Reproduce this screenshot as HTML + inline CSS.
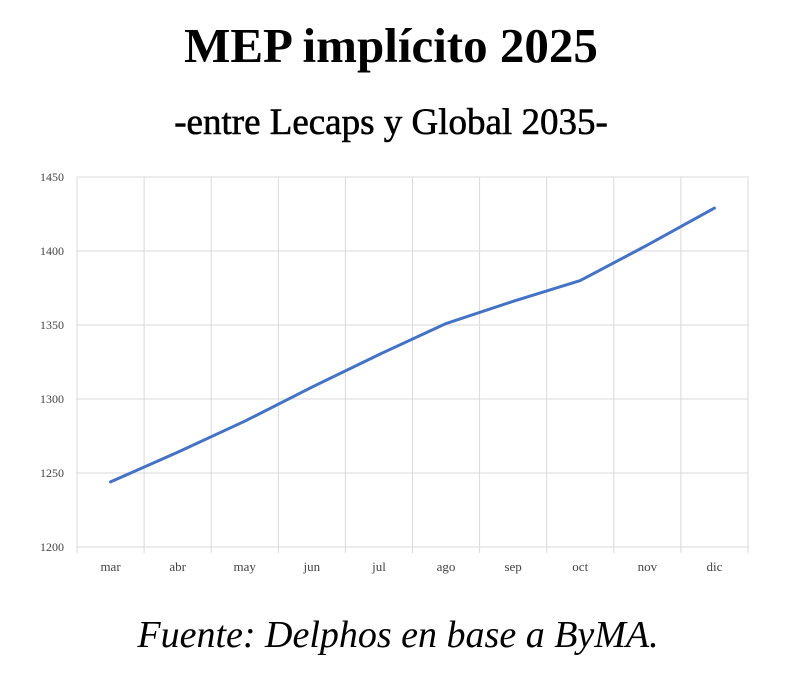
<!DOCTYPE html>
<html><head><meta charset="utf-8"><style>
body{margin:0;background:#fff;width:800px;height:672px;overflow:hidden;font-family:"Liberation Serif",serif}
</style></head><body>
<svg width="800" height="672" xmlns="http://www.w3.org/2000/svg">
<text x="391" y="62" text-anchor="middle" font-size="49" font-weight="bold" font-family="Liberation Serif,serif">MEP implícito 2025</text>
<text x="391" y="134" text-anchor="middle" font-size="37" font-family="Liberation Serif,serif" stroke="#000" stroke-width="0.6">-entre Lecaps y Global 2035-</text>
<g id="grid"></g><g id="axes"></g><g id="series"></g>
<text x="398" y="647" text-anchor="middle" font-size="38" font-style="italic" font-family="Liberation Serif,serif">Fuente: Delphos en base a ByMA.</text>
</svg>
<script>
const categories=["mar","abr","may","jun","jul","ago","sep","oct","nov","dic"];
const mepValues=[1244,1264,1285,1308,1330,1351,1366,1380,1404,1429];
const yTicks=[1200,1250,1300,1350,1400,1450];
const L=77,R=748,T=177,B=547,yMin=1200,yMax=1450;
const bw=(R-L)/categories.length;
const xPos=i=>L+bw*(i+0.5);
const yPos=v=>B-(v-yMin)/(yMax-yMin)*(B-T);
const NS="http://www.w3.org/2000/svg";
function mk(t,a,p){const e=document.createElementNS(NS,t);for(const k in a)e.setAttribute(k,a[k]);p.appendChild(e);return e;}
const grid=document.getElementById('grid'),axes=document.getElementById('axes'),series=document.getElementById('series');
yTicks.forEach(v=>{
 const l=mk('line',{x1:L,x2:R,y1:yPos(v),y2:yPos(v),stroke:'#d9d9d9','stroke-width':1},grid);
 
 
 const t=mk('text',{x:L-13,y:yPos(v)+4,'text-anchor':'end','font-size':12,fill:'#444'},axes);
 t.textContent=v;
 
 
});
for(let i=0;i<=categories.length;i++){
 const x=L+bw*i;
 const l=mk('line',{x1:x,x2:x,y1:T,y2:B+6,stroke:'#d9d9d9','stroke-width':1},grid);
 
 
}
categories.forEach((c,i)=>{
 const t=mk('text',{x:xPos(i),y:B+24,'text-anchor':'middle','font-size':13,fill:'#444'},axes);
 t.textContent=c;
 
 
});
const pts=mepValues.map((v,i)=>xPos(i)+','+yPos(v)).join(' ');
const pl=mk('polyline',{points:pts,fill:'none',stroke:'#4472C4','stroke-width':3,'stroke-linejoin':'round','stroke-linecap':'round'},series);


</script>
</body></html>
